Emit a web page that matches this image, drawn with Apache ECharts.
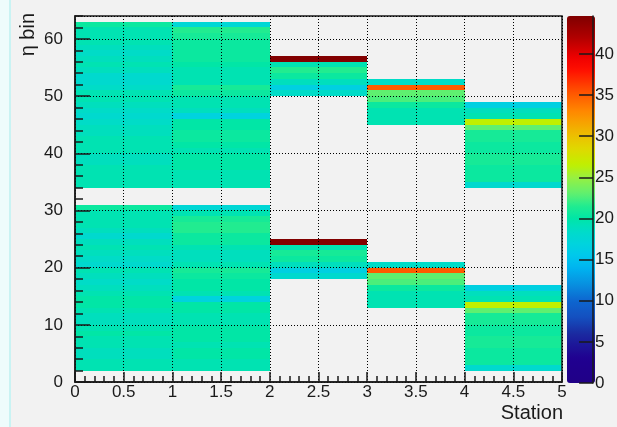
<!DOCTYPE html>
<html>
<head>
<meta charset="utf-8">
<script src="https://cdn.jsdelivr.net/npm/echarts@6/dist/echarts.min.js"></script>
<style>
html,body{margin:0;padding:0;background:#f2f2f2;}
#chart{width:617px;height:427px;}
</style>
</head>
<body>
<div id="chart"></div>
<script>
// ---- Data ----
// Station bins (lower edges, width 1)
const stationEdges = [0, 1, 2, 3, 4, 5];
// First eta bin of each block (lower block, upper block) per station
const s0Start = [2, 34];
const s1Start = [2, 34];
const s2Start = [18, 50];
const s3Start = [13, 45];
const s4Start = [2, 34];
// Bin contents, listed from lowest eta bin upward
const s0Low  = [19.5,19.5,19,19,19.5,19.5,20,19.5,19,19,19.5,20,20,19.5,19,18.5,19,19.5,18,18.5,19,19.5,19,18,19,19.5,19.5,19.5,20.5];
const s0High = [19.5,19.5,19.5,19.5,19,19,19.5,19.5,19.5,19,19,18.5,18,18.5,19,19.5,19.5,18.5,18,18,19,19.5,19,18.5,19,19.5,19.5,19.5,20.5];
const s1Low  = [19.5,19.5,20,20,19.5,20,20,20,19.5,19.5,20,20,16.8,19.5,20,20,20.5,21,19.5,19,19,19.5,20.5,20.5,21.5,21.5,21,19.5,17.5];
const s1High = [19.5,19.5,19.5,20,20,20,19.5,20,20.5,20.5,20,20,16.8,19,19.5,19.5,20.5,21,19.5,19.5,19.5,20,20.5,20.5,20.5,20.5,21,21.5,17.5];
const s2Low  = [18, 16.5, 19, 20.5, 21, 19.5, 44.5];
const s2High = [18.5, 16.5, 19, 20.5, 21.5, 19.5, 44.5];
const s3Low  = [19.5, 19.5, 19.5, 20.5, 22.5, 23, 35, 18.5];
const s3High = [19.5, 19.5, 19.5, 20.5, 22.5, 23, 35, 18.5];
const s4Low  = [18, 20.5, 20.5, 20.5, 21, 21, 20.5, 20.5, 21, 21, 23, 26.5, 19.5, 19, 16.5];
const s4High = [18, 20.5, 20.5, 20.5, 21, 21, 20.5, 20.5, 21, 21, 23, 26.5, 19.5, 19, 16.5];
const zMin = 0, zMax = 44.6;
const colorTicks = [0, 5, 10, 15, 20, 25, 30, 35, 40];

// ---- Build cells ----
const blocks = [
  [0, s0Start, s0Low, s0High],
  [1, s1Start, s1Low, s1High],
  [2, s2Start, s2Low, s2High],
  [3, s3Start, s3Low, s3High],
  [4, s4Start, s4Low, s4High]
];
const cells = [];
blocks.forEach(([si, starts, low, high]) => {
  const x0 = stationEdges[si], x1 = stationEdges[si + 1];
  [low, high].forEach((arr, k) => {
    arr.forEach((v, i) => {
      const y0 = starts[k] + i;
      cells.push([x0, x1, y0, y0 + 1, v]);
    });
  });
});

// ---- Palette (ROOT-like rainbow) ----
const stops = [
  [0,'#200087'],[3,'#200090'],[6,'#1a2aa0'],[8,'#1450c0'],[10,'#0d66d0'],[12,'#0890e0'],
  [14,'#00b4f0'],[15.5,'#00c8ec'],[17,'#00d4dc'],[18.5,'#00dcc8'],[20,'#00e6a6'],
  [21.5,'#20ec90'],[23,'#60f070'],[25,'#98f040'],[26.5,'#c0f000'],[28.5,'#e0d800'],
  [30.5,'#f0b800'],[33,'#ff8800'],[35.5,'#ff5000'],[38,'#ff1000'],[39.5,'#f00000'],
  [42,'#b00000'],[44.6,'#800000']
];
function hex(c){return [parseInt(c.substr(1,2),16),parseInt(c.substr(3,2),16),parseInt(c.substr(5,2),16)];}
function colorAt(v){
  for (let i=0;i<stops.length-1;i++){
    const a=stops[i], b=stops[i+1];
    if (v<=b[0]){
      const t=(v-a[0])/(b[0]-a[0]); const ca=hex(a[1]), cb=hex(b[1]);
      return 'rgb('+ca.map((c,j)=>Math.round(c+(cb[j]-c)*t)).join(',')+')';
    }
  }
  return stops[stops.length-1][1];
}
const N = 180;
const palette = [];
for (let i=0;i<=N;i++) palette.push(colorAt(zMin + (zMax-zMin)*i/N));

const FONT = '"Liberation Sans", Arial, Helvetica, sans-serif';
const INK = '#1a1a1a';
const chart = echarts.init(document.getElementById('chart'));
chart.setOption({
  backgroundColor: '#f2f2f2',
  animation: false,
  grid: [
    {left: 75, top: 16, width: 487, height: 366, show: true, borderColor: INK, borderWidth: 1.5, backgroundColor: 'transparent', z: 10},
    {left: 567, top: 16, width: 28, height: 367, show: false},
    {left: 75, top: 16, width: 487, height: 366, show: false}
  ],
  xAxis: [
    {type: 'value', gridIndex: 0, min: 0, max: 5, interval: 0.5, z: 10,
     axisLine: {show: true, onZero: false, lineStyle: {color: INK, width: 1.5}},
     axisTick: {show: true, inside: true, length: 10, lineStyle: {color: INK, width: 1.5}},
     minorTick: {show: true, splitNumber: 5, length: 6, lineStyle: {color: INK, width: 1.5}},
     axisLabel: {color: INK, fontSize: 17, fontFamily: FONT, margin: 2},
     splitLine: {show: true, lineStyle: {color: '#000', width: 1, type: [1, 2]}}},
    {type: 'value', gridIndex: 1, min: 0, max: 1, show: false},
    {type: 'value', gridIndex: 2, min: 0, max: 5, show: false}
  ],
  yAxis: [
    {type: 'value', gridIndex: 0, min: 0, max: 64, interval: 10, z: 10,
     axisLine: {show: true, onZero: false, lineStyle: {color: INK, width: 1.5}},
     axisTick: {show: true, inside: true, length: 15, lineStyle: {color: INK, width: 1.5}},
     axisLabel: {color: INK, fontSize: 17, fontFamily: FONT, margin: 12, showMaxLabel: false},
     splitLine: {show: true, lineStyle: {color: '#000', width: 1, type: [1, 2]}}},
    {type: 'value', gridIndex: 1, min: zMin, max: zMax, interval: 5, position: 'right', z: 20,
     axisLine: {show: true, onZero: false, lineStyle: {color: INK, width: 1.5}},
     axisTick: {show: true, inside: true, length: 14, lineStyle: {color: INK, width: 1.5}},
     axisLabel: {color: INK, fontSize: 17, fontFamily: FONT, margin: 2, showMaxLabel: false,
                 formatter: v => colorTicks.indexOf(v) >= 0 ? String(v) : ''},
     splitLine: {show: false}},
    {type: 'value', gridIndex: 2, min: 0, max: 64, interval: 2, position: 'left', z: 10,
     axisLine: {show: false},
     axisTick: {show: true, inside: true, length: 8, lineStyle: {color: INK, width: 1.5}},
     axisLabel: {show: false}, splitLine: {show: false}}
  ],
  visualMap: {
    type: 'continuous', min: zMin, max: zMax, dimension: 4, seriesIndex: 0, z: 2,
    calculable: false, left: 567, top: 16, itemWidth: 28, itemHeight: 367, padding: 0,
    inRange: {color: palette}, text: null, showLabel: false, hoverLink: false
  },
  series: [{
    type: 'custom', xAxisIndex: 0, yAxisIndex: 0, z: 1,
    encode: {x: [0, 1], y: [2, 3]},
    data: cells,
    renderItem: function (params, api) {
      const pa = api.coord([api.value(0), api.value(3)]);
      const pb = api.coord([api.value(1), api.value(2)]);
      const x = Math.round(pa[0]), y = Math.round(pa[1]);
      return {type: 'rect', shape: {x: x, y: y, width: Math.round(pb[0]) - x, height: Math.round(pb[1]) - y},
              style: {fill: api.visual('color')}};
    }
  }],
  graphic: [
    {type: 'rect', left: 0, top: 0, shape: {width: 10, height: 427}, style: {fill: '#eefcfc'}, silent: true},
    {type: 'rect', left: 9, top: 0, shape: {width: 2, height: 427}, style: {fill: '#c9f3f3'}, silent: true},
    {type: 'text', x: 28, y: 13, rotation: Math.PI / 2,
     style: {text: 'η bin', font: '20px ' + FONT, fill: INK, align: 'right', verticalAlign: 'middle'}},
    {type: 'text', x: 563, y: 413,
     style: {text: 'Station', font: '20px ' + FONT, fill: INK, align: 'right', verticalAlign: 'middle'}}
  ]
});
</script>
</body>
</html>
